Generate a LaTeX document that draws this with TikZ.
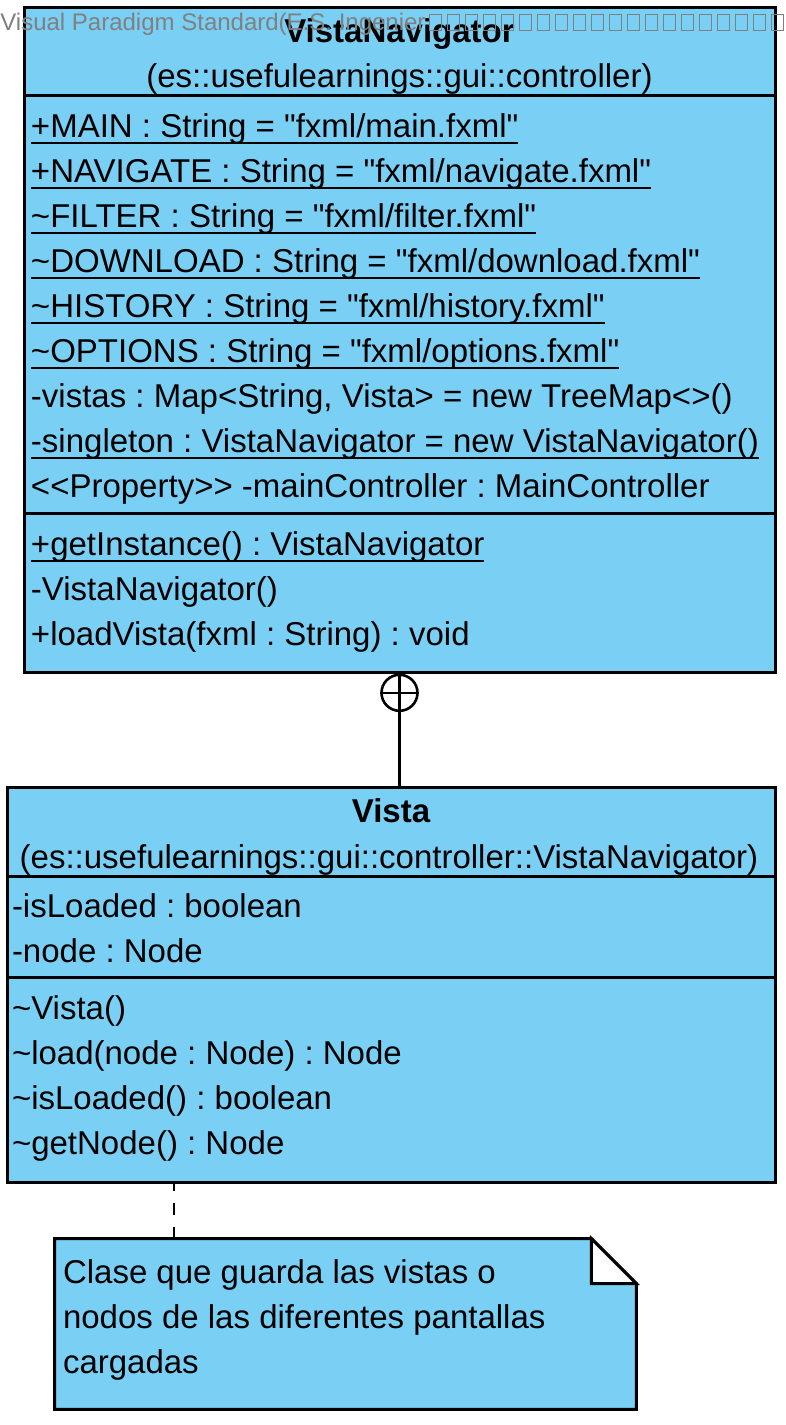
\documentclass[tikz,border=0pt]{standalone}
\usepackage{fontspec}
\setmainfont{Liberation Sans}[Ligatures=TeXOff]
\usetikzlibrary{positioning}
\definecolor{vpblue}{RGB}{122,207,245}
\definecolor{vpgray}{RGB}{128,128,128}

\begin{document}
\frenchspacing
\begin{tikzpicture}[x=0.5pt,y=-0.5pt,font=\fontsize{16.5pt}{20pt}\selectfont,
  classbox/.style={rectangle,draw,fill=vpblue,line width=1.5pt,inner sep=0pt},
  row/.style={inner sep=0pt,outer sep=0pt,text height=16pt,text depth=6.5pt,anchor=base west},
  title/.style={inner sep=0pt,anchor=base},
  sep/.style={line width=1.3pt},
  uline/.style={line width=1.3pt},
  nest/.style={circle,draw,fill=white,line width=1.3pt,minimum size=18pt,inner sep=0pt},
  nestline/.style={line width=1.3pt},
  noteline/.style={line width=1pt,dash pattern=on 6pt off 6pt},
  tofu/.style={draw=vpgray,line width=0.5pt}]
  \path[fill=white,use as bounding box] (0,0) rectangle (786,1425);

  \node[classbox,minimum width=375.5pt,minimum height=332.5pt] (vn) at (399.5,339.5) {};
  \node[classbox,minimum width=384pt,minimum height=197.5pt] (vi) at (391,984.5) {};
  \node[minimum width=290.5pt,minimum height=85pt,inner sep=0pt] (note) at (345.5,1324) {};

  \draw[sep] ([yshift=-45pt]vn.north west) -- ([yshift=-45pt]vn.north east);
  \draw[sep] ([yshift=-254pt]vn.north west) -- ([yshift=-254pt]vn.north east);
  \draw[sep] ([yshift=-45.5pt]vi.north west) -- ([yshift=-45.5pt]vi.north east);
  \draw[sep] ([yshift=-96pt]vi.north west) -- ([yshift=-96pt]vi.north east);

  \node[title,font=\fontsize{16.5pt}{20pt}\selectfont\bfseries] (vnname) at (399.5,42) {VistaNavigator};
  \node[title] (vnpkg) at (399.5,87) {(es::usefulearnings::gui::controller)};

  \node[row] (a1) at (31,137) {+MAIN : String = "fxml/main.fxml"};
  \node[row,below right=0pt of a1.south west] (a2) {+NAVIGATE : String = "fxml/navigate.fxml"};
  \node[row,below right=0pt of a2.south west] (a3) {\textasciitilde FILTER : String = "fxml/filter.fxml"};
  \node[row,below right=0pt of a3.south west] (a4) {\textasciitilde DOWNLOAD : String = "fxml/download.fxml"};
  \node[row,below right=0pt of a4.south west] (a5) {\textasciitilde HISTORY : String = "fxml/history.fxml"};
  \node[row,below right=0pt of a5.south west] (a6) {\textasciitilde OPTIONS : String = "fxml/options.fxml"};
  \node[row,below right=0pt of a6.south west] (a7) {-vistas : Map<String, Vista> = new TreeMap<>()};
  \node[row,below right=0pt of a7.south west] (a8) {-singleton : VistaNavigator = new VistaNavigator()};
  \node[row,below right=0pt of a8.south west] (a9) {<<Property>> -mainController : MainController};

  \node[row] (o1) at (31,555) {+getInstance() : VistaNavigator};
  \node[row,below right=0pt of o1.south west] (o2) {-VistaNavigator()};
  \node[row,below right=0pt of o2.south west] (o3) {+loadVista(fxml : String) : void};

  \foreach \n in {a1,a2,a3,a4,a5,a6,a8,o1}
    \draw[uline] ([yshift=-3pt]\n.base west) -- ([yshift=-3pt]\n.base east);

  \node[title,font=\fontsize{16.5pt}{20pt}\selectfont\bfseries] (viname) at (391,822) {Vista};
  \node[title] (vipkg) at (389,868) {(es::usefulearnings::gui::controller::VistaNavigator)};

  \node[row] (b1) at (12,917) {-isLoaded : boolean};
  \node[row,below right=0pt of b1.south west] (b2) {-node : Node};

  \node[row] (c1) at (12,1019) {\textasciitilde Vista()};
  \node[row,below right=0pt of c1.south west] (c2) {\textasciitilde load(node : Node) : Node};
  \node[row,below right=0pt of c2.south west] (c3) {\textasciitilde isLoaded() : boolean};
  \node[row,below right=0pt of c3.south west] (c4) {\textasciitilde getNode() : Node};

  \node[nest,below=0pt of vn.south] (nest) {};
  \draw[nestline] (nest.west) -- (nest.east);
  \draw[nestline] (nest.north) -- (nest.north |- vi.north);

  \draw[line width=1.5pt,fill=vpblue] (note.north west) -- ([xshift=-22.5pt]note.north east)
    -- ([yshift=-22.5pt]note.north east) -- (note.south east) -- (note.south west) -- cycle;
  \draw[line width=1.5pt,fill=white] ([xshift=-22.5pt]note.north east)
    -- ([xshift=-22.5pt,yshift=-22.5pt]note.north east) -- ([yshift=-22.5pt]note.north east) -- cycle;
  \draw[noteline] ([xshift=59.5pt]note.north west) -- ([xshift=59.5pt]note.north west |- vi.south);

  \node[row] (n1) at (63,1283) {Clase que guarda las vistas o};
  \node[row,below right=0pt of n1.south west] (n2) {nodos de las diferentes pantallas};
  \node[row,below right=0pt of n2.south west] (n3) {cargadas};

  \node[anchor=base west,inner sep=0pt,text=vpgray,font=\fontsize{12pt}{14pt}\selectfont] (wm) at (0,30) {Visual Paradigm Standard(E.S. Ingenier};
  \foreach \i in {0,...,19}
    \draw[tofu] (429+18*\i,14) rectangle ++(12,16);
\end{tikzpicture}
\end{document}
